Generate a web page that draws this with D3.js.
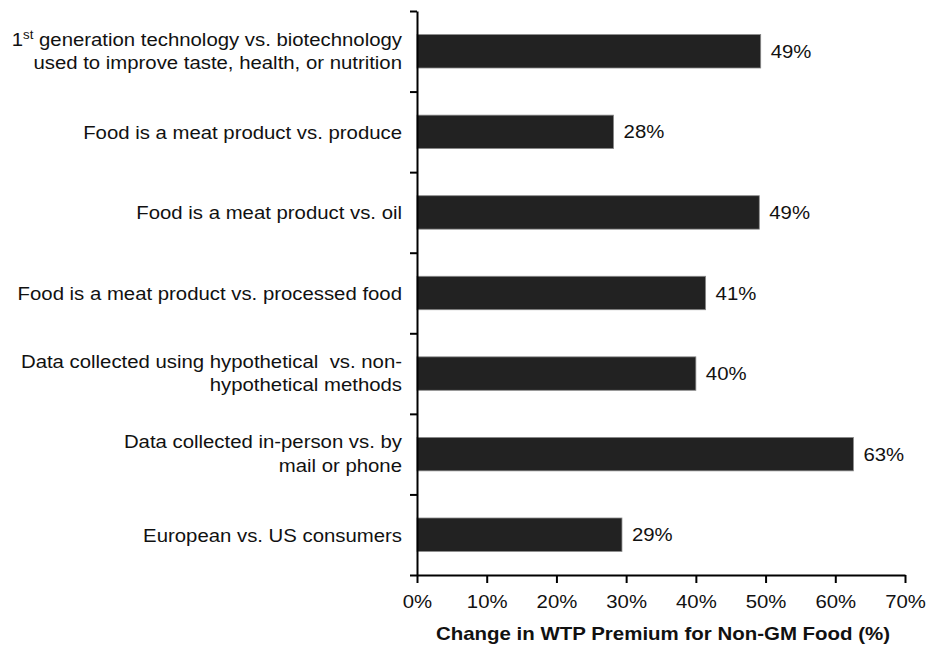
<!DOCTYPE html>
<html>
<head>
<meta charset="utf-8">
<script src="https://cdn.jsdelivr.net/npm/d3@7"></script>
<style>
  body { margin: 0; background: #fff; }
  svg { display: block; font-family: "Liberation Sans", Arial, sans-serif; }
</style>
</head>
<body>
<svg id="chart" width="929" height="647"></svg>
<script>
// categories, each as lines of label text (top to bottom)
const categories = [
  ["generation technology vs. biotechnology", "used to improve taste, health, or nutrition"],
  ["Food is a meat product vs. produce"],
  ["Food is a meat product vs. oil"],
  ["Food is a meat product vs. processed food"],
  ["Data collected using hypothetical  vs. non-", "hypothetical methods"],
  ["Data collected in-person vs. by", "mail or phone"],
  ["European vs. US consumers"]
];
const values = [49.3, 28.2, 49.1, 41.4, 40.0, 62.6, 29.4];
const valueLabels = ["49%", "28%", "49%", "41%", "40%", "63%", "29%"];
const xTicks = [0, 10, 20, 30, 40, 50, 60, 70];
const xTitle = "Change in WTP Premium for Non-GM Food (%)";

const svg = d3.select("#chart");
const margin = {top: 11, left: 417, right: 24, bottom: 72};
const W = 929, H = 647;
const fs = 18.5;       // text size
const sx = 1.1;        // the source text is a little wider than tall

const x = d3.scaleLinear()
  .domain([0, 70])
  .range([margin.left, W - margin.right]);

const y = d3.scaleBand()
  .domain(d3.range(categories.length))
  .range([margin.top, H - margin.bottom])
  .paddingInner(0.585)
  .paddingOuter(0.2925);

// band boundaries for the category ticks
const yEdge = d3.scaleLinear()
  .domain([0, categories.length])
  .range([margin.top, H - margin.bottom]);

const mid = i => y(i) + y.bandwidth() / 2;

// bars
svg.append("g")
  .selectAll("rect")
  .data(values)
  .join("rect")
  .attr("x", x(0))
  .attr("y", (d, i) => y(i))
  .attr("width", d => x(d) - x(0))
  .attr("height", y.bandwidth())
  .attr("fill", "#222")
  .attr("stroke", "#8a8a8a")
  .attr("stroke-width", 0.8);

// value labels
svg.append("g")
  .selectAll("text")
  .data(values)
  .join("text")
  .attr("transform", (d, i) => `translate(${x(d) + 10},${mid(i) + 6.5}) scale(${sx},1)`)
  .attr("font-size", fs)
  .attr("fill", "#111")
  .text((d, i) => valueLabels[i]);

// category labels
const lineH = 23.3;
const labels = svg.append("g")
  .selectAll("text")
  .data(categories)
  .join("text")
  .attr("text-anchor", "end")
  .attr("font-size", fs)
  .attr("fill", "#111")
  .attr("xml:space", "preserve")
  .attr("transform", (d, i) => {
    const base = d.length > 1 ? mid(i) + 6 - lineH / 2 : mid(i) + 7;
    return `translate(402,${base}) scale(${sx},1)`;
  });

labels.each(function(lines, i) {
  const t = d3.select(this);
  lines.forEach((line, j) => {
    const tl = t.append("tspan").attr("x", 0).attr("y", j * lineH);
    if (i === 0 && j === 0) {
      // "1st" with superscript
      tl.append("tspan").text("1");
      tl.append("tspan").attr("font-size", 12).attr("dy", -7).text("st");
      tl.append("tspan").attr("dy", 7).text(" " + line);
    } else {
      tl.text(line);
    }
  });
});

// y axis: line with category boundary ticks pointing left
svg.append("g")
  .attr("transform", `translate(${x(0)},0)`)
  .call(d3.axisLeft(yEdge)
    .tickValues(d3.range(categories.length + 1))
    .tickSize(7)
    .tickSizeOuter(0)
    .tickFormat(""))
  .call(g => g.select(".domain").attr("stroke", "#000").attr("stroke-width", 2))
  .call(g => g.selectAll(".tick line").attr("stroke", "#000").attr("stroke-width", 2));

// x axis
svg.append("g")
  .attr("transform", `translate(0,${H - margin.bottom})`)
  .call(d3.axisBottom(x)
    .tickValues(xTicks)
    .tickSize(8)
    .tickSizeOuter(0)
    .tickPadding(12)
    .tickFormat(d => d + "%"))
  .call(g => g.select(".domain").attr("stroke", "#000").attr("stroke-width", 2))
  .call(g => g.selectAll(".tick line").attr("stroke", "#000").attr("stroke-width", 2))
  .call(g => g.selectAll(".tick text")
    .attr("font-size", fs)
    .attr("font-family", "Liberation Sans, Arial, sans-serif")
    .attr("fill", "#111")
    .attr("transform", `scale(${sx},1)`));

// x axis title
svg.append("text")
  .attr("transform", `translate(${(x(0) + x(70)) / 2 + 2},640) scale(${sx},1)`)
  .attr("text-anchor", "middle")
  .attr("font-size", 18.6)
  .attr("font-weight", "bold")
  .attr("fill", "#111")
  .text(xTitle);
</script>
</body>
</html>
